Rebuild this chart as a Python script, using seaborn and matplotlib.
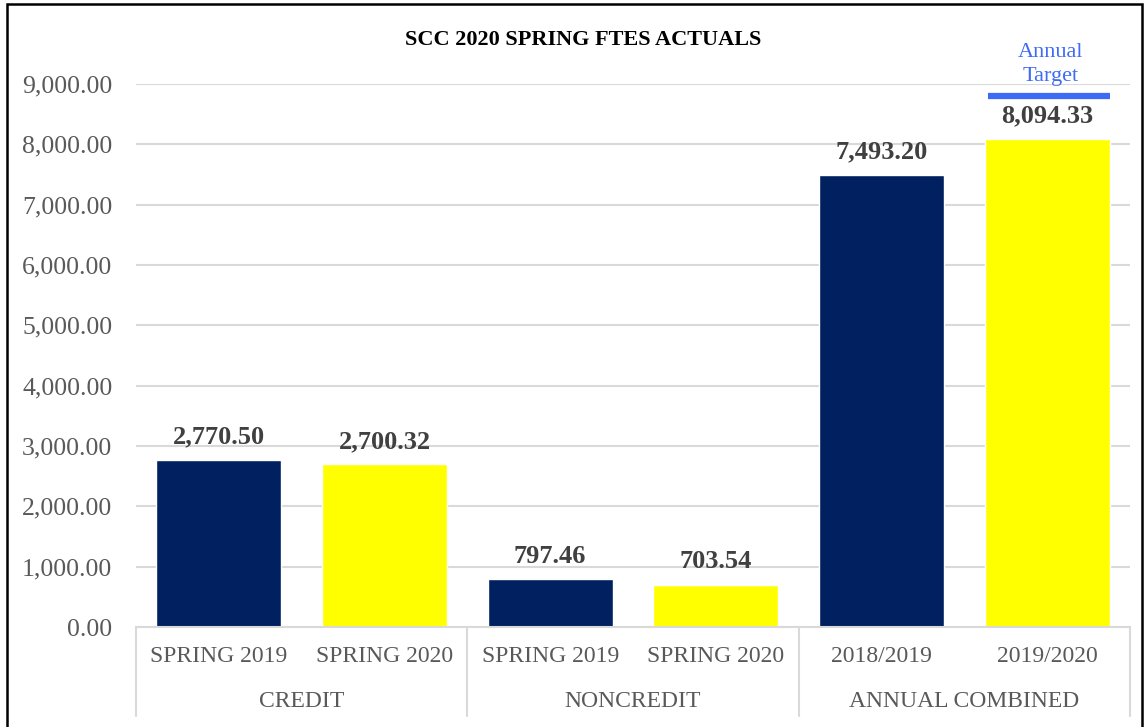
import matplotlib
matplotlib.use("Agg")
import matplotlib.pyplot as plt
import matplotlib.transforms as mtransforms
from matplotlib.patches import Rectangle
from matplotlib.ticker import FuncFormatter
import seaborn as sns
import pandas as pd

groups = ["CREDIT", "CREDIT", "NONCREDIT", "NONCREDIT", "ANNUAL COMBINED", "ANNUAL COMBINED"]
periods = ["SPRING 2019", "SPRING 2020", "SPRING 2019", "SPRING 2020", "2018/2019", "2019/2020"]
values = [2770.50, 2700.32, 797.46, 703.54, 7493.20, 8094.33]
year_kind = ["prior", "current", "prior", "current", "prior", "current"]
annual_target = 8800
title = "SCC 2020 SPRING FTES ACTUALS"

NAVY = "#00205F"
YELLOW = "#FFFF00"
TARGET_BLUE = "#3D6BF5"

sns.set_theme(style="white")
plt.rcParams["font.family"] = ["Liberation Serif", "DejaVu Serif"]

df = pd.DataFrame({"key": [f"{g}|{p}|{i}" for i, (g, p) in enumerate(zip(groups, periods))],
                   "value": values, "kind": year_kind})

fig = plt.figure(figsize=(11.45, 7.27), dpi=100)
ax = fig.add_axes([136 / 1145, 100 / 727, (1130 - 136) / 1145, (627 - 84) / 727])

sns.barplot(data=df, x="key", y="value", hue="kind", palette={"prior": NAVY, "current": YELLOW},
            dodge=False, width=0.755, legend=False, ax=ax, saturation=1)

ax.set_ylim(0, 9000)
ax.set_xlim(-0.5, 5.5)
ax.set_yticks(range(0, 9001, 1000))
ax.yaxis.set_major_formatter(FuncFormatter(lambda v, p: f"{v:,.2f}"))
ax.grid(axis="y", color="#D9D9D9", linewidth=1.5)
ax.set_axisbelow(True)
for s in ["top", "right", "left"]:
    ax.spines[s].set_visible(False)
ax.spines["bottom"].set_color("#D9D9D9")
ax.spines["bottom"].set_linewidth(1.5)
ax.tick_params(axis="y", length=0, pad=17, labelsize=18.5, labelcolor="#595959")
ax.tick_params(axis="x", length=0, pad=14, labelsize=17, labelcolor="#595959")
ax.set_xticks(range(len(periods)))
ax.set_xticklabels(periods)
ax.set_xlabel("")
ax.set_ylabel("")

for i, v in enumerate(values):
    ax.annotate(f"{v:,.2f}", xy=(i, v), xytext=(0, 8), textcoords="offset points",
                ha="center", va="bottom", fontsize=19, fontweight="bold", color="#404040")

# group separators and labels
trans = mtransforms.blended_transform_factory(ax.transData, ax.transAxes)
for xpos in [-0.5, 1.5, 3.5, 5.5]:
    ax.plot([xpos, xpos], [0, -0.163], transform=trans, color="#D9D9D9", linewidth=1.5, clip_on=False)
seen = []
for g in groups:
    if g not in seen:
        seen.append(g)
for g in seen:
    idx = [i for i, gg in enumerate(groups) if gg == g]
    ax.text(sum(idx) / len(idx), -0.138, g, transform=trans, ha="center", va="center",
            fontsize=17, color="#595959")

# annual target marker
ax.hlines(annual_target, 5 - 0.36, 5 + 0.38, color=TARGET_BLUE, linewidth=4.5, clip_on=False)
ax.annotate("Annual\nTarget", xy=(5.02, annual_target), xytext=(0, 7), textcoords="offset points",
            ha="center", va="bottom", fontsize=16, color=TARGET_BLUE, linespacing=1.35,
            annotation_clip=False)

fig.text(583 / 1145, 1 - 40 / 727, title, ha="center", va="center", fontsize=16,
         fontweight="bold", color="black")

fig.patches.append(Rectangle((7 / 1145, -0.05), (1142 - 7) / 1145, 1.05 - 4 / 727,
                             transform=fig.transFigure, fill=False, edgecolor="black",
                             linewidth=1.8))

fig.savefig("out.png", dpi=100)
